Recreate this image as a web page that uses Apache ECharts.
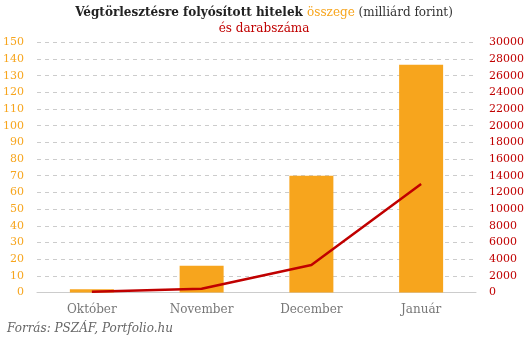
<!DOCTYPE html>
<html><head><meta charset="utf-8">
<script src="https://cdn.jsdelivr.net/npm/echarts@6/dist/echarts.min.js"></script>
<style>html,body{margin:0;padding:0;background:#fff}#c{width:531px;height:342px}</style>
</head><body><div id="c"></div>
<script>
const categories = ['Október', 'November', 'December', 'Január'];
const amountValues = [2, 16, 70, 136.5];
const countValues = [100, 450, 3300, 13000];
const leftTicks = [0,10,20,30,40,50,60,70,80,90,100,110,120,130,140,150];
const rightTicks = [0,2000,4000,6000,8000,10000,12000,14000,16000,18000,20000,22000,24000,26000,28000,30000];

const FONT = '"DejaVu Serif", serif';
const ORANGE = '#F7A51D';
const RED = '#C00000';
const chart = echarts.init(document.getElementById('c'));
chart.setOption({
  animation: false,
  backgroundColor: '#fff',
  title: [{
    text: '{b|Végtörlesztésre folyósított hitelek }{o|összege}{n| (milliárd forint)}\n{r|és darabszáma}',
    left: 259, textAlign: 'center', top: 0,
    textStyle: {
      fontFamily: FONT, fontWeight: 'normal',
      rich: {
        b: {fontFamily: FONT, fontWeight: 'bold', fontSize: 12, color: '#222', lineHeight: 16},
        o: {fontFamily: FONT, fontWeight: 'normal', fontSize: 12, color: ORANGE, lineHeight: 16},
        n: {fontFamily: FONT, fontWeight: 'normal', fontSize: 12, color: '#333', lineHeight: 16},
        r: {fontFamily: FONT, fontWeight: 'normal', fontSize: 12, color: RED, lineHeight: 16}
      }
    }
  }, {
    text: 'Forrás: PSZÁF, Portfolio.hu',
    left: 2, top: 318,
    textStyle: {fontFamily: FONT, fontStyle: 'italic', fontWeight: 'normal', fontSize: 12, color: '#666'}
  }],
  grid: {left: 36, right: 55, top: 42.3, bottom: 49.5, containLabel: false},
  xAxis: {
    type: 'category', data: categories,
    axisLine: {lineStyle: {color: '#ccc', width: 1}},
    axisTick: {show: false},
    axisLabel: {fontFamily: FONT, fontSize: 12, color: '#777', margin: 11}
  },
  yAxis: [{
    type: 'value', min: leftTicks[0], max: leftTicks[leftTicks.length-1], interval: 10,
    axisLine: {show: false}, axisTick: {show: false},
    axisLabel: {fontFamily: FONT, fontSize: 11, color: ORANGE, margin: 13},
    splitLine: {lineStyle: {color: '#ccc', type: [4, 4]}}
  }, {
    type: 'value', min: rightTicks[0], max: rightTicks[rightTicks.length-1], interval: 2000,
    axisLine: {show: false}, axisTick: {show: false},
    axisLabel: {fontFamily: FONT, fontSize: 11, color: RED, margin: 13, formatter: v => String(v)},
    splitLine: {show: false}
  }],
  series: [{
    type: 'bar', data: amountValues, yAxisIndex: 0, barWidth: 44,
    itemStyle: {color: ORANGE}
  }, {
    type: 'line', data: countValues, yAxisIndex: 1, symbol: 'none',
    lineStyle: {color: RED, width: 2.5}
  }]
});
</script></body></html>
